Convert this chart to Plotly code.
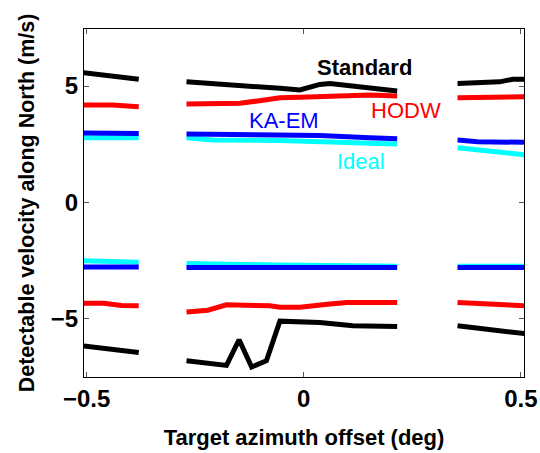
import plotly.graph_objects as go

# ---- data (None = gap between swath segments) ----
std_top_x = [-0.51, -0.38, None, -0.27, -0.17, -0.055, -0.009, 0.037, 0.06, 0.129, 0.215, None, 0.354, 0.405, 0.451, 0.481, 0.51]
std_top_y = [5.58, 5.29, None, 5.18, 5.07, 4.90, 4.83, 5.07, 5.11, 4.97, 4.79, None, 5.11, 5.14, 5.18, 5.29, 5.29]
std_bot_x = [-0.51, -0.38, None, -0.27, -0.178, -0.149, -0.12, -0.086, -0.055, 0.037, 0.113, 0.215, None, 0.354, 0.444, 0.51]
std_bot_y = [-6.16, -6.45, None, -6.80, -7.00, -5.90, -7.07, -6.80, -5.10, -5.16, -5.30, -5.33, None, -5.30, -5.47, -5.64]

hodw_top_x = [-0.51, -0.44, -0.38, None, -0.27, -0.147, -0.09, -0.055, -0.009, 0.152, 0.215, None, 0.354, 0.51]
hodw_top_y = [4.18, 4.18, 4.11, None, 4.23, 4.26, 4.40, 4.50, 4.52, 4.61, 4.57, None, 4.50, 4.54]
hodw_bot_x = [-0.51, -0.46, -0.42, -0.38, None, -0.27, -0.221, -0.178, -0.12, -0.078, -0.055, -0.009, 0.06, 0.099, 0.215, None, 0.354, 0.45, 0.51]
hodw_bot_y = [-4.33, -4.33, -4.43, -4.44, None, -4.71, -4.63, -4.40, -4.40, -4.44, -4.50, -4.50, -4.36, -4.30, -4.30, None, -4.30, -4.36, -4.44]

kaem_top_x = [-0.51, -0.38, None, -0.27, -0.055, 0.037, 0.152, 0.215, None, 0.354, 0.40, 0.51]
kaem_top_y = [2.98, 2.96, None, 2.94, 2.90, 2.87, 2.78, 2.74, None, 2.68, 2.61, 2.58]
kaem_bot_x = [-0.51, -0.38, None, -0.27, 0.215, None, 0.354, 0.51]
kaem_bot_y = [-2.77, -2.77, None, -2.80, -2.80, None, -2.80, -2.80]

ideal_top_x = [-0.51, -0.38, None, -0.27, -0.21, -0.055, 0.05, 0.152, 0.215, None, 0.354, 0.51]
ideal_top_y = [2.78, 2.78, None, 2.78, 2.68, 2.66, 2.60, 2.54, 2.51, None, 2.35, 2.04]
ideal_bot_x = [-0.51, -0.44, -0.38, None, -0.27, -0.12, -0.06, 0.215, None, 0.354, 0.51]
ideal_bot_y = [-2.50, -2.52, -2.57, None, -2.62, -2.64, -2.69, -2.74, None, -2.74, -2.74]

series = [
    ("Ideal", "#00FFFF", ideal_top_x, ideal_top_y, ideal_bot_x, ideal_bot_y),
    ("KA-EM", "#0000FF", kaem_top_x, kaem_top_y, kaem_bot_x, kaem_bot_y),
    ("HODW", "#FF0000", hodw_top_x, hodw_top_y, hodw_bot_x, hodw_bot_y),
    ("Standard", "#000000", std_top_x, std_top_y, std_bot_x, std_bot_y),
]

labels = ["Standard", "HODW", "KA-EM", "Ideal"]
label_x = [0.140, 0.236, -0.045, 0.131]
label_y = [5.79, 3.93, 3.54, 1.75]
label_color = ["#000000", "#FF0000", "#0000FF", "#00FFFF"]
label_bold = [True, False, False, False]

x_ticks = [-0.5, 0, 0.5]
x_ticktext = ["\u22120.5", "0", "0.5"]
y_ticks = [-5, 0, 5]
y_ticktext = ["\u22125", "0", "5"]

FONT = "Liberation Sans, Arial, sans-serif"

fig = go.Figure()
for name, color, tx, ty, bx, by in series:
    for xs, ys in ((tx, ty), (bx, by)):
        fig.add_trace(go.Scatter(x=xs, y=ys, mode="lines", name=name,
                                 line=dict(color=color, width=5),
                                 connectgaps=False, showlegend=False))

for t, x, y, c, b in zip(labels, label_x, label_y, label_color, label_bold):
    fig.add_annotation(x=x, y=y, text=("<b>%s</b>" % t) if b else t, showarrow=False,
                       xanchor="center", yanchor="middle",
                       font=dict(family=FONT, size=22, color=c))

axis_common = dict(showline=True, linecolor="black", linewidth=1, mirror="ticks",
                   ticks="inside", ticklen=5, tickcolor="#555", showgrid=False,
                   zeroline=False, automargin=False,
                   tickfont=dict(family=FONT, size=24, color="black"))

fig.update_xaxes(range=[-0.506, 0.507], tickvals=x_ticks, ticktext=[f"<b>{t}</b>" for t in x_ticktext],
                 title=dict(text="<b>Target azimuth offset (deg)</b>", standoff=18,
                            font=dict(family=FONT, size=22, color="black")),
                 **axis_common)
fig.update_yaxes(range=[-7.5, 7.45], tickvals=y_ticks, ticktext=[f"<b>{t}</b>" for t in y_ticktext],
                 title=dict(text="<b>Detectable velocity along North (m/s)</b>", standoff=10,
                            font=dict(family=FONT, size=21.5, color="black")),
                 **axis_common)

fig.update_layout(width=540, height=453, margin=dict(l=84, r=16, t=29, b=76, autoexpand=False),
                  paper_bgcolor="white", plot_bgcolor="white", showlegend=False)

fig.write_html("out.html")
